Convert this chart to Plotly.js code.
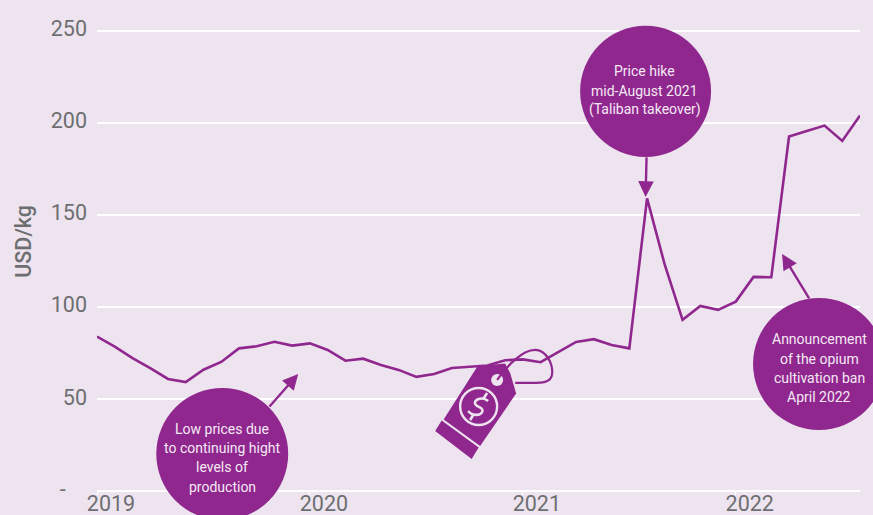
<!DOCTYPE html>
<html>
<head>
<meta charset="utf-8">
<script src="https://cdn.plot.ly/plotly-3.0.1.min.js"></script>
<style>html,body{margin:0;padding:0;background:#EDE4EF;}</style>
</head>
<body>
<div id="chart" style="width:873px;height:515px;"></div>
<script>
// Monthly opium price, USD per kilogram
const months = [
  "2019-01","2019-02","2019-03","2019-04","2019-05","2019-06","2019-07","2019-08","2019-09","2019-10","2019-11","2019-12",
  "2020-01","2020-02","2020-03","2020-04","2020-05","2020-06","2020-07","2020-08","2020-09","2020-10","2020-11","2020-12",
  "2021-01","2021-02","2021-03","2021-04","2021-05","2021-06","2021-07","2021-08","2021-09","2021-10","2021-11","2021-12",
  "2022-01","2022-02","2022-03","2022-04","2022-05","2022-06","2022-07","2022-08"
];
const priceUsdPerKg = [
  83.9,78.4,72.2,66.8,60.9,59.2,65.9,70.1,77.5,78.6,81.1,79,
  80.2,76.6,70.8,71.9,68.5,65.8,62,63.6,66.8,67.4,68.2,71,
  71.5,70,75.5,81,82.5,79.3,77.5,159,122.8,93,100.5,98.4,
  102.9,116.3,116.1,192.6,195.6,198.5,190.2,204
];
const yearTicks = ["2019-01","2020-01","2021-01","2022-01"];
const yearLabels = ["2019","2020","2021","2022"];
const priceTicks = [0,50,100,150,200,250];
const priceLabels = ["-\u00A0\u00A0\u00A0\u00A0","50","100","150","200","250"];

const PURPLE = "#90278E", PAPER = "#EDE4EF", GREY = "#6D6E71", CALLOUT_TEXT = "#F4E9F4";
const W = 873, H = 515, M = {l:96.7, r:13, t:29.16, b:24};

// Pixel position to paper fraction, for the decorative callouts and price tag
const px = x => (x - M.l) / (W - M.l - M.r);
const py = y => 1 - (y - M.t) / (H - M.t - M.b);
const pt = (x, y) => px(x) + "," + py(y);

function bubble(cx, cy, r) {
  return {type:"circle", xref:"paper", yref:"paper", layer:"above",
    x0:px(cx-r), x1:px(cx+r), y0:py(cy+r), y1:py(cy-r),
    fillcolor:PURPLE, line:{width:0}};
}
function poly(points, fill) {
  const d = points.map((p,i)=>(i?"L":"M")+pt(p[0],p[1])).join(" ")+" Z";
  return {type:"path", xref:"paper", yref:"paper", layer:"above", path:d, fillcolor:fill, line:{width:0}};
}
function stroke(d, color, width) {
  return {type:"path", xref:"paper", yref:"paper", layer:"above", path:d, line:{color:color, width:width}};
}
function curve(start, segs) {
  return "M"+pt(start[0],start[1])+" "+segs.map(s=>"C"+pt(s[0],s[1])+" "+pt(s[2],s[3])+" "+pt(s[4],s[5])).join(" ");
}

const shapes = [
  bubble(645.5, 91.5, 65.5),
  bubble(222, 454, 66),
  bubble(819, 364, 66),
  // price tag body and base strip
  poly([[477.5,366],[505,363.5],[510,373],[516,393.5],[480,446],[443.5,419.5]], PURPLE),
  poly([[441.5,420.5],[478.5,447.5],[471.5,459],[435,431]], PURPLE),
  {type:"circle", xref:"paper", yref:"paper", layer:"above",
    x0:px(491), x1:px(503), y0:py(386), y1:py(374), fillcolor:PAPER, line:{width:0}},
  {type:"circle", xref:"paper", yref:"paper", layer:"above",
    x0:px(460), x1:px(497), y0:py(425), y1:py(388), fillcolor:"rgba(0,0,0,0)", line:{color:PAPER, width:2.4}},
  // dollar sign inside the tag
  stroke(curve([488,401],[[482,396,473,400,475,404],[477,408,484,407,482,412],[480,416,472,416,468,411]]), PAPER, 2.6),
  stroke("M"+pt(483,399)+" L"+pt(487,393), PAPER, 2.6),
  stroke("M"+pt(473,415)+" L"+pt(470,420), PAPER, 2.6),
  // string looped through the tag hole
  stroke(curve([497,380],[[507,366,522,350,535,350],[546,350,553,364,552,374],[551,386,535,382,515,383]]), PURPLE, 2.2)
];

// One annotation per line so the line spacing can be set
function callout(cx, firstY, lines) {
  return lines.map((text, i) => ({xref:"paper", yref:"paper", x:px(cx), y:py(firstY + i*19.2), text:text,
    showarrow:false, xanchor:"center", yanchor:"middle", align:"center",
    font:{family:"Roboto, sans-serif", size:14, color:CALLOUT_TEXT}}));
}
function pointer(x, y, fromX, fromY) {
  return {xref:"paper", yref:"paper", axref:"pixel", ayref:"pixel", x:px(x), y:py(y),
    ax:fromX-x, ay:fromY-y, text:"", showarrow:true, arrowhead:2, arrowsize:1.3, arrowwidth:2.4, arrowcolor:PURPLE};
}

const annotations = [
  pointer(645.5, 197, 646.5, 156),
  pointer(298, 374, 268, 408),
  pointer(782, 254, 810, 300),
  ...callout(644.5, 71.5, ["Price hike","mid-August 2021","(Taliban takeover)"]),
  ...callout(222, 429, ["Low prices due","to continuing hight","levels of","production"]),
  ...callout(819, 339.5, ["Announcement","of the opium","cultivation ban","April 2022"]),
  {xref:"paper", yref:"paper", x:px(23.5), y:py(241), text:"USD/kg", textangle:-90, showarrow:false,
    xanchor:"center", yanchor:"middle", font:{family:"Roboto, sans-serif", size:21.5, weight:500, color:GREY}}
];

const traces = [{
  type:"scatter", mode:"lines", x:months, y:priceUsdPerKg,
  line:{color:PURPLE, width:2.6, shape:"linear"}, hoverinfo:"x+y"
}];

const layout = {
  width:W, height:H, margin:M, showlegend:false,
  paper_bgcolor:PAPER, plot_bgcolor:PAPER,
  font:{family:"Roboto, sans-serif", color:GREY},
  xaxis:{type:"category", categoryorder:"array", categoryarray:months, range:[0,43],
    tickmode:"array", tickvals:yearTicks, ticktext:yearLabels, ticklabelshift:14, ticklabelstandoff:-10,
    showgrid:false, zeroline:false, showline:false, ticks:"outside", ticklen:3, tickwidth:1, tickcolor:"#FFFFFF",
    tickfont:{size:21.5, color:GREY}},
  yaxis:{range:[0,251], tickmode:"array", tickvals:priceTicks, ticktext:priceLabels, ticklabelshift:-2, ticklabelstandoff:9,
    showgrid:true, gridcolor:"#FFFFFF", gridwidth:2, zeroline:true, zerolinecolor:"#FFFFFF", zerolinewidth:2,
    showline:false, ticks:"", tickfont:{size:21.5, color:GREY}},
  shapes:shapes, annotations:annotations
};

Plotly.newPlot("chart", traces, layout, {displayModeBar:false, responsive:false});
</script>
</body>
</html>
